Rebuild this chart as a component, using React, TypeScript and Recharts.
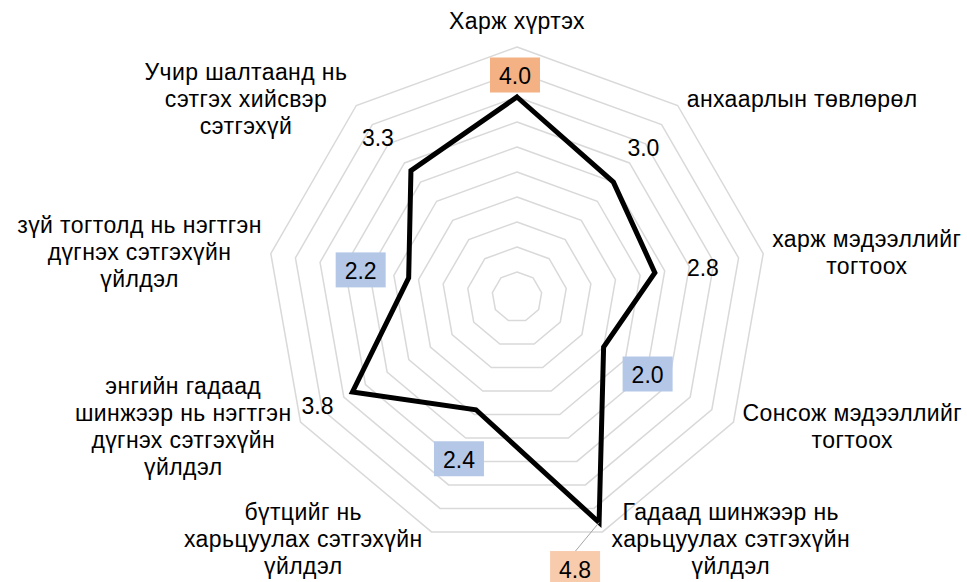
import { RadarChart, Radar, PolarGrid, PolarAngleAxis, PolarRadiusAxis } from 'recharts'

const categories = [
  'Харж хүртэх',
  'анхаарлын төвлөрөл',
  'харж мэдээллийг\nтогтоох',
  'Сонсож мэдээллийг\nтогтоох',
  'Гадаад шинжээр нь\nхарьцуулах сэтгэхүйн\nүйлдэл',
  'бүтцийг нь\nхарьцуулах сэтгэхүйн\nүйлдэл',
  'энгийн гадаад\nшинжээр нь нэгтгэн\nдүгнэх сэтгэхүйн\nүйлдэл',
  'зүй тогтолд нь нэгтгэн\nдүгнэх сэтгэхүйн\nүйлдэл',
  'Учир шалтаанд нь\nсэтгэх хийсвэр\nсэтгэхүй',
]
const scores = [4.0, 3.0, 2.8, 2.0, 4.8, 2.4, 3.8, 2.2, 3.3]
const radiusTicks = [0, 0.5, 1, 1.5, 2, 2.5, 3, 3.5, 4, 4.5, 5]

// label box fill per point (null = no box)
const labelFills = ['#f4b183', null, null, '#b4c7e7', '#f8cbad', '#b4c7e7', null, '#b4c7e7', null]
// label offset from the point [dx, dy]
const labelNudge = [
  [-2, -22], [30, -35], [48, -6], [44, 27], [-24, 46], [-17, 49], [-35, 13], [-48, -8], [-33, -34],
]

const data = categories.map((name, i) => ({ name, score: scores[i] }))

const W = 967
const H = 582
const CX = 517
const CY = 297
const R = 250
const FONT = '"Liberation Sans", Arial, sans-serif'
const CAT_SIZE = 23
const CAT_SPACING = 0.4

let ctx: CanvasRenderingContext2D | null = null
function textWidth(s: string, size: number) {
  if (!ctx) ctx = document.createElement('canvas').getContext('2d')
  if (!ctx) return s.length * size * 0.55
  ctx.font = `${size}px ${FONT}`
  return ctx.measureText(s).width + s.length * CAT_SPACING
}

function CategoryTick(props: any) {
  const { payload, index } = props
  const lines = String(payload.value).split('\n')
  const lh = 27
  const ang = (payload.coordinate * Math.PI) / 180
  const cos = Math.cos(ang)
  const sin = Math.sin(ang)
  const vx = CX + R * cos
  const vy = CY - R * sin
  const bw = Math.max(...lines.map((l) => textWidth(l, CAT_SIZE)))
  const bh = lines.length * lh
  let mx = vx
  let my = vy
  if (Math.abs(cos) < 0.05) {
    my = vy - 13 - bh / 2
  } else {
    const gap = 9
    mx = cos > 0 ? vx + gap + bw / 2 : vx - gap - bw / 2
    my = vy - 8 * sin
  }
  const top = my - bh / 2
  return (
    <g key={index}>
      {lines.map((l, k) => (
        <text
          key={k}
          x={mx}
          y={top + k * lh + lh / 2}
          textAnchor="middle"
          dominantBaseline="central"
          fontSize={CAT_SIZE}
          fontFamily={FONT}
          letterSpacing={CAT_SPACING}
          fill="#000"
        >
          {l}
        </text>
      ))}
    </g>
  )
}

function ValueLabel(props: any) {
  const { cx, cy, index, payload } = props
  const [dx, dy] = labelNudge[index]
  const lx = cx + dx
  const ly = cy + dy
  const fill = labelFills[index]
  const value = payload?.value ?? scores[index]
  return (
    <g key={`lbl-${index}`}>
      {index === 4 && (
        <line x1={cx} y1={cy} x2={lx} y2={ly - 17} stroke="#a6a6a6" strokeWidth={1} />
      )}
      {fill && <rect x={lx - 25} y={ly - 17.5} width={50} height={35} fill={fill} />}
      <text
        x={lx}
        y={ly + 1}
        textAnchor="middle"
        dominantBaseline="central"
        fontSize={23}
        fontFamily={FONT}
        fill="#000"
      >
        {Number(value).toFixed(1)}
      </text>
    </g>
  )
}

export default function App() {
  return (
    <div style={{ position: 'absolute', left: 0, top: 0, width: W, height: H, background: '#fff' }}>
      <RadarChart width={W} height={H} data={data} cx={CX} cy={CY} outerRadius={R} margin={{ top: 0, right: 0, bottom: 0, left: 0 }}>
        <PolarGrid gridType="polygon" radialLines={false} stroke="#d9d9d9" strokeWidth={1.5} />
        <PolarAngleAxis dataKey="name" tick={<CategoryTick />} tickLine={false} axisLine={false} />
        <PolarRadiusAxis domain={[0, 5]} ticks={radiusTicks as any} tickCount={11} tick={false} axisLine={false} />
        <Radar
          dataKey="score"
          stroke="#000"
          strokeWidth={5}
          strokeLinejoin="miter"
          fill="none"
          fillOpacity={0}
          dot={<ValueLabel />}
          isAnimationActive={false}
        />
      </RadarChart>
    </div>
  )
}
